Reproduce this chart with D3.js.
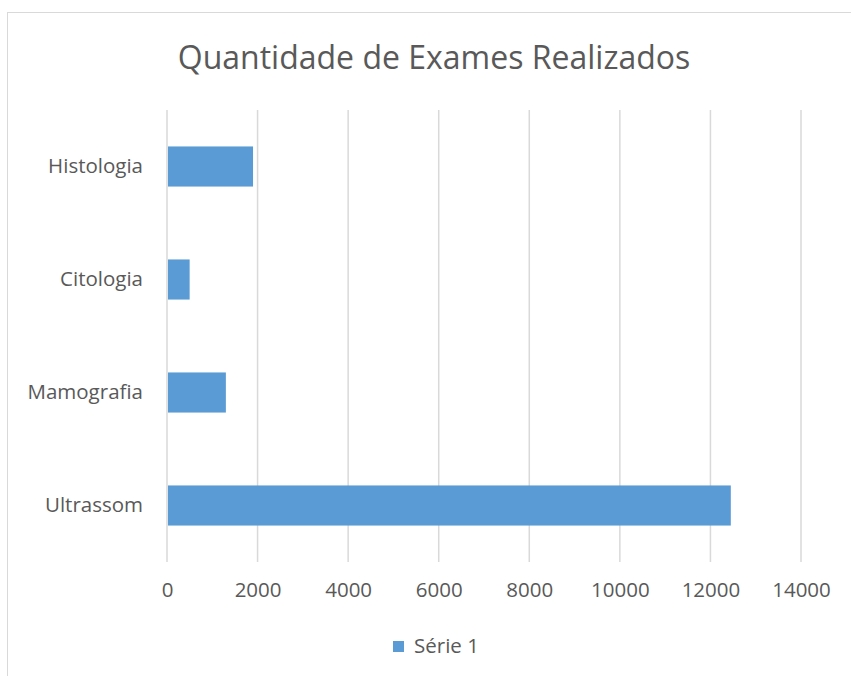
<!DOCTYPE html>
<html>
<head>
<meta charset="utf-8">
<script src="https://cdn.jsdelivr.net/npm/d3@7"></script>
<style>
  body { margin: 0; background: #fff; }
  text { font-family: 'Open Sans', sans-serif; fill: #595959; }
</style>
</head>
<body>
<div id="chart"></div>
<script>
const categories = ['Histologia', 'Citologia', 'Mamografia', 'Ultrassom']
const values = [1900, 500, 1300, 12450]
const xTicks = [0, 2000, 4000, 6000, 8000, 10000, 12000, 14000]
const seriesName = 'Série 1'
const title = 'Quantidade de Exames Realizados'

const W = 851
const H = 676
const margin = { top: 110, left: 167, right: 50, bottom: 114 }
const width = 801 - margin.left
const height = 562 - margin.top

const svg = d3
  .select('#chart')
  .append('svg')
  .attr('width', W)
  .attr('height', H)

// chart area border
svg
  .append('rect')
  .attr('x', 7.5)
  .attr('y', 12.5)
  .attr('width', W)
  .attr('height', H)
  .attr('fill', 'none')
  .attr('stroke', '#d9d9d9')

svg
  .append('text')
  .attr('x', 434)
  .attr('y', 69)
  .attr('text-anchor', 'middle')
  .style('font-size', '32px')
  .text(title)

const g = svg
  .append('g')
  .attr('transform', 'translate(' + margin.left + ',' + margin.top + ')')

const xPositionScale = d3
  .scaleLinear()
  .domain([0, 14000])
  .range([0, width])

const yPositionScale = d3
  .scaleBand()
  .domain(categories)
  .range([0, height])
  .paddingInner(0.645)
  .paddingOuter(0.3225)

// gridlines
g.selectAll('.grid')
  .data(xTicks)
  .enter()
  .append('line')
  .attr('class', 'grid')
  .attr('x1', d => xPositionScale(d))
  .attr('x2', d => xPositionScale(d))
  .attr('y1', 0)
  .attr('y2', height)
  .attr('stroke', '#d9d9d9')
  .attr('stroke-width', 1.5)

g.selectAll('.bar')
  .data(values)
  .enter()
  .append('rect')
  .attr('class', 'bar')
  .attr('x', xPositionScale(0) + 1)
  .attr('y', (d, i) => yPositionScale(categories[i]))
  .attr('width', d => xPositionScale(d) - xPositionScale(0) - 1)
  .attr('height', yPositionScale.bandwidth())
  .attr('fill', '#5b9bd5')

const xAxis = d3
  .axisBottom(xPositionScale)
  .tickValues(xTicks)
  .tickSize(0)
  .tickPadding(20)
  .tickFormat(d3.format('d'))
g.append('g')
  .attr('class', 'axis x-axis')
  .attr('transform', 'translate(0,' + height + ')')
  .call(xAxis)

const yAxis = d3.axisLeft(yPositionScale).tickSize(0).tickPadding(24)
g.append('g')
  .attr('class', 'axis y-axis')
  .call(yAxis)

svg.selectAll('.axis .domain').remove()
svg.selectAll('.axis text')
  .style('font-size', '20.5px')
  .attr('fill', '#595959')

// legend
const legend = svg.append('g').attr('transform', 'translate(393,641)')
legend
  .append('rect')
  .attr('width', 11)
  .attr('height', 11)
  .attr('fill', '#5b9bd5')
legend
  .append('text')
  .attr('x', 21)
  .attr('y', 12)
  .style('font-size', '20.5px')
  .text(seriesName)
</script>
</body>
</html>
